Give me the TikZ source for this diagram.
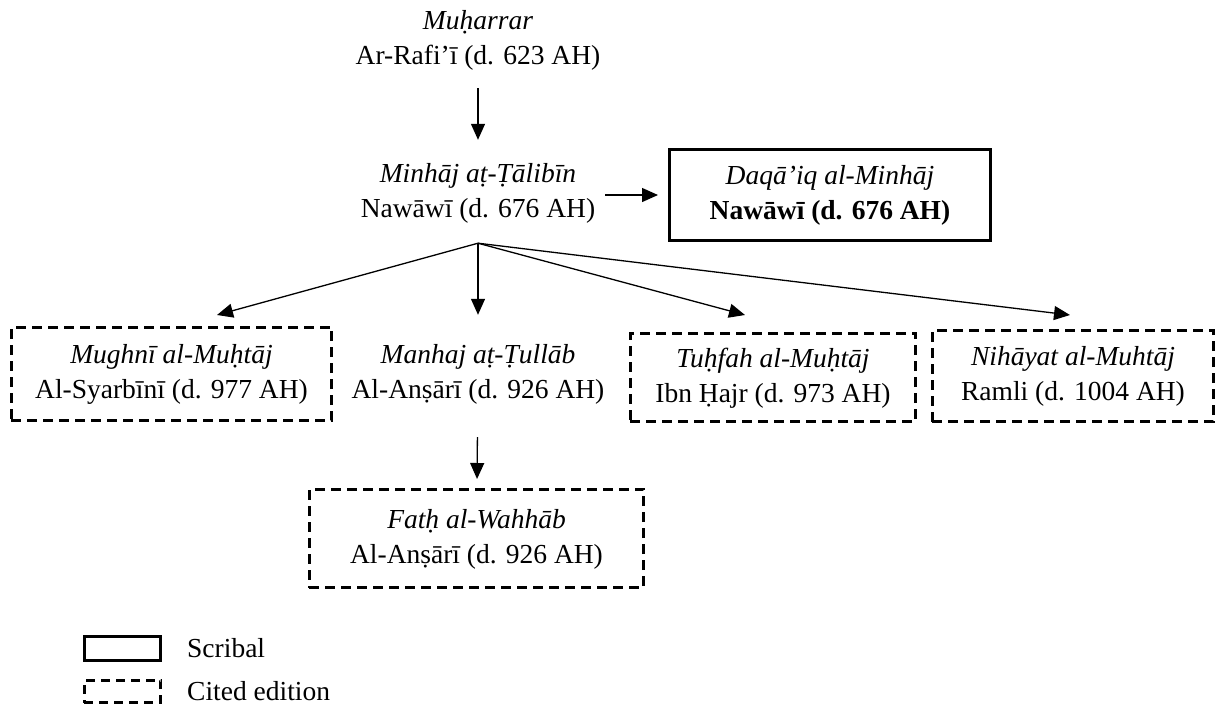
\documentclass[tikz,border=0pt]{standalone}
\usepackage{fontspec}
\setmainfont{Liberation Serif}
\usetikzlibrary{arrows.meta,calc}
\newcommand\lstrut{\rule[-10.5pt]{0pt}{35pt}}
\begin{document}
\begin{tikzpicture}[x=1pt,y=-1pt,
  font=\fontsize{27.5}{35}\selectfont,
  txt/.style={align=center, inner sep=0pt},
  dbox/.style={draw, align=center, inner sep=0pt, line width=2.6pt, dash pattern=on 10pt off 6pt},
  sbox/.style={draw, align=center, inner sep=0pt, line width=2.6pt},
  arr/.style={-{Triangle[length=16pt,width=14pt]}, line width=1.3pt}]
\useasboundingbox (0,0) rectangle (1216,710);

\node[txt] (muh) at (478,40) {{\itshape Muḥarrar\lstrut}\\Ar-Rafi’ī (d. 623 AH)\lstrut};
\node[txt] (min) at (478,192.5) {{\itshape Minhāj aṭ-Ṭālibīn\lstrut}\\Nawāwī (d. 676 AH)\lstrut};
\node[sbox, minimum width=321.4pt, minimum height=91.4pt] (daq) at (830,195)
  {{\itshape Daqā’iq al-Minhāj\lstrut}\\{\bfseries Nawāwī (d. 676 AH)}\lstrut};

\node[dbox, minimum width=320.4pt, minimum height=93.4pt] (mug) at (171.5,374)
  {{\itshape Mughnī al-Muḥtāj\lstrut}\\Al-Syarbīnī (d. 977 AH)\lstrut};
\node[txt] (man) at (478,374) {{\itshape Manhaj aṭ-Ṭullāb\lstrut}\\Al-Anṣārī (d. 926 AH)\lstrut};
\node[dbox, minimum width=285.4pt, minimum height=88.4pt] (tuh) at (773,377.5)
  {{\itshape Tuḥfah al-Muḥtāj\lstrut}\\Ibn Ḥajr (d. 973 AH)\lstrut};
\node[dbox, minimum width=281.4pt, minimum height=91.4pt] (nih) at (1073,376)
  {{\itshape Nihāyat al-Muhtāj\lstrut}\\Ramli (d. 1004 AH)\lstrut};
\node[dbox, minimum width=334.4pt, minimum height=98.4pt] (fath) at (476.5,538.5)
  {{\itshape Fatḥ al-Wahhāb\lstrut}\\Al-Anṣārī (d. 926 AH)\lstrut};

\coordinate (fan) at ([yshift=-15.5pt]min.south);

\draw[arr, shorten <=13pt, shorten >=17.5pt] (muh) -- (min);
\draw[arr, shorten <=10pt, shorten >=10pt] (min.east |- daq.west) -- (daq.west);
\draw[arr] (fan) -- ([xshift=45.5pt,yshift=11pt]mug.north);
\draw[arr, shorten >=24pt] (fan) -- (man);
\draw[arr] (fan) -- ([xshift=-28pt,yshift=17pt]tuh.north);
\draw[arr] (fan) -- ([xshift=-3pt,yshift=14pt]nih.north);
\draw[arr, shorten <=28pt, shorten >=9pt] (man) -- (fath);

\node[sbox, minimum width=76.4pt, minimum height=24.4pt] (lg1) at (122.5,648.5) {};
\node[anchor=base west, inner sep=0pt] (lt1) at (187,657) {Scribal};
\node[dbox, minimum width=76.4pt, minimum height=22.4pt, dash pattern=on 9pt off 6pt] (lg2) at (122.5,691.5) {};
\node[anchor=base west, inner sep=0pt] (lt2) at (187,700) {Cited edition};
\end{tikzpicture}
\end{document}
